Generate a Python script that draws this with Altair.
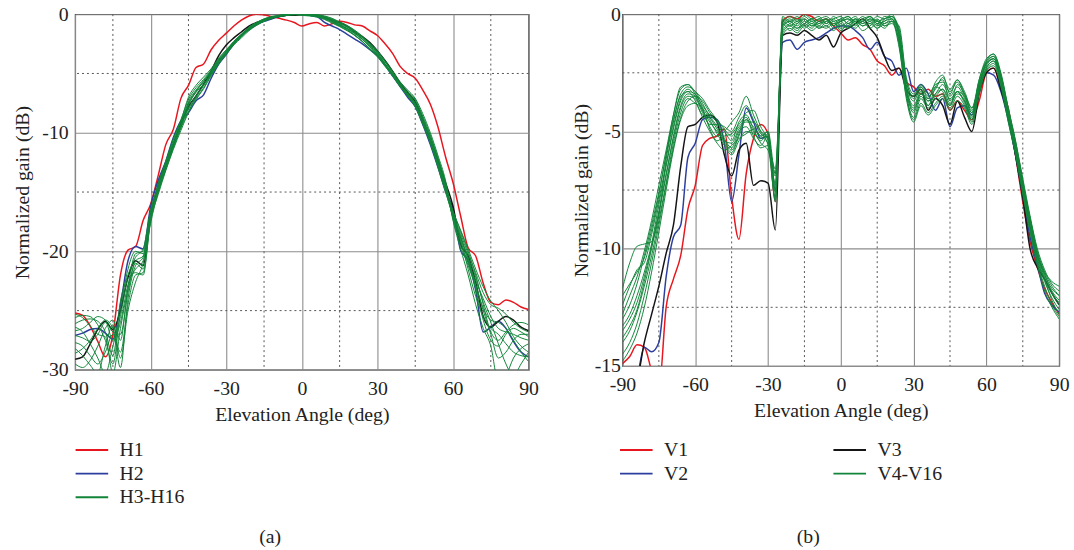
import altair as alt
import pandas as pd

FONT = "Liberation Serif"
RED, BLUE, BLACK, GREEN = "#e8161e", "#2d3f9e", "#151515", "#12853a"

angles = list(range(-90, 91, 3))
x_major = [-90, -60, -30, 0, 30, 60, 90]
x_minor = [-75, -45, -15, 15, 45, 75]

# ---------------- panel (a): horizontal ----------------
a_y_major = [-30, -20, -10, 0]
a_y_minor = [-25, -15, -5]

H1 = [-25.2, -25.4, -26.3, -27.6, -28.9, -27.0, -22.0, -19.9, -19.6, -17.4,
      -16.0, -13.6, -11.0, -9.7, -7.1, -6.0, -4.5, -4.2, -3.0, -2.2,
      -1.6, -1.0, -0.5, -0.15, 0.0, -0.05, -0.2, -0.35, -0.5, -0.7,
      -1.0, -0.8, -0.7, -1.0, -0.8, -0.6, -0.7, -0.9, -1.0, -1.4,
      -1.8, -2.5, -3.3, -4.4, -5.0, -5.4, -6.4, -7.6, -9.5, -12.0,
      -14.2, -17.0, -19.7, -20.4, -22.7, -24.3, -24.5, -24.1, -24.3, -24.7, -24.9]
H2 = [-27.1, -26.9, -26.6, -26.5, -26.9, -27.4, -24.5, -20.8, -19.6, -19.8,
      -16.2, -14.0, -12.4, -10.4, -9.0, -8.3, -7.3, -6.8, -5.4, -4.2,
      -3.4, -2.5, -1.8, -1.3, -0.9, -0.6, -0.4, -0.2, -0.1, 0.0,
      0.0, -0.1, -0.2, -0.7, -1.0, -1.3, -1.7, -2.1, -2.5, -3.0,
      -3.5, -4.3, -5.2, -6.1, -7.0, -7.8, -9.3, -11.0, -12.9, -14.9,
      -16.4, -19.9, -20.8, -23.3, -26.8, -26.4, -25.9, -26.5, -27.6, -28.5, -28.9]
H_black = [-29.1, -28.9, -27.8, -26.6, -25.9, -26.6, -25.0, -22.2, -20.8, -21.2,
           -17.0, -14.4, -12.7, -11.0, -9.2, -7.8, -6.9, -5.9, -4.8, -3.5,
           -2.6, -2.0, -1.5, -1.0, -0.7, -0.5, -0.3, -0.2, -0.1, -0.1,
           -0.05, -0.05, -0.1, -0.3, -0.5, -0.7, -1.0, -1.5, -1.9, -2.4,
           -3.1, -3.9, -4.8, -5.8, -6.6, -7.4, -8.9, -10.6, -12.3, -14.2,
           -16.2, -19.4, -20.4, -22.6, -25.5, -26.4, -25.9, -25.5, -25.8, -26.4, -26.7]

HG1 = ([-25.6, -25.4, -25.5, -26.2, -27.5, -29.5, -25.0, -21.5, -20.0, -20.2, -16.8]
       + [-14.3, -12.4, -10.5, -8.9, -7.2, -6.2, -5.5, -4.7, -3.8, -3.1, -2.3, -1.7, -1.1, -0.7, -0.4, -0.2, -0.1, 0, 0, 0,
          -0.05, -0.1, -0.3, -0.5, -0.8, -1.1, -1.5, -2.0, -2.6, -3.2, -4.0, -4.9, -5.8, -6.5, -7.2, -8.6, -10.2, -12.1, -14.2]
       + [-16.8, -18.5, -20.2, -21.8, -23.5, -24.5, -24.8, -25.3, -26.0, -26.5, -26.8])
HG2 = ([-26.1, -25.8, -25.7, -25.9, -26.8, -28.8, -24.2, -22.0, -20.5, -19.8, -16.5]
       + [-14.6, -12.8, -11.0, -9.4, -7.9, -6.9, -6.0, -5.0, -4.0, -3.3, -2.5, -1.9, -1.3, -0.9, -0.6, -0.35, -0.2, -0.1, 0, -0.05,
          -0.1, -0.2, -0.35, -0.6, -0.9, -1.2, -1.6, -2.1, -2.7, -3.3, -4.2, -5.1, -6.0, -6.8, -7.6, -9.0, -10.6, -12.5, -14.6]
       + [-17.0, -18.8, -20.8, -22.5, -24.0, -25.5, -26.5, -26.8, -27.0, -27.3, -27.5])
HG3 = ([-26.7, -26.5, -26.0, -25.5, -25.8, -27.5, -26.0, -22.8, -21.5, -20.8, -17.2]
       + [-15.0, -13.0, -11.2, -9.6, -8.2, -7.0, -6.0, -5.1, -4.1, -3.3, -2.5, -1.9, -1.3, -0.9, -0.55, -0.3, -0.15, -0.05, 0, 0,
          -0.05, -0.15, -0.35, -0.65, -0.95, -1.3, -1.8, -2.3, -3.0, -3.6, -4.4, -5.2, -6.1, -6.9, -7.8, -9.1, -10.7, -12.6, -14.7]
       + [-16.6, -18.2, -19.8, -21.5, -23.0, -24.2, -25.0, -26.0, -27.2, -28.0, -28.5])
HG4 = ([-27.1, -27.3, -27.6, -27.0, -26.0, -26.8, -27.0, -23.5, -21.0, -21.5, -17.0]
       + [-14.8, -12.9, -11.0, -9.3, -7.4, -6.4, -5.6, -4.8, -3.9, -3.2, -2.4, -1.8, -1.2, -0.8, -0.5, -0.3, -0.15, -0.05, 0, 0,
          0, -0.05, -0.2, -0.4, -0.7, -1.0, -1.4, -1.9, -2.5, -3.1, -4.0, -4.9, -5.9, -6.6, -7.3, -8.7, -10.3, -12.2, -14.3]
       + [-17.3, -19.5, -21.2, -23.0, -25.0, -27.0, -29.0, -28.5, -27.5, -27.0, -27.0])
HG5 = ([-27.7, -28.0, -28.8, -29.5, -28.5, -27.0, -28.5, -24.5, -22.0, -21.8, -17.4]
       + [-15.2, -13.2, -11.4, -9.8, -8.3, -7.2, -6.3, -5.2, -4.2, -3.4, -2.6, -2.0, -1.4, -0.95, -0.6, -0.35, -0.2, -0.1, -0.05, 0,
          0, -0.05, -0.2, -0.45, -0.75, -1.05, -1.45, -1.95, -2.55, -3.25, -4.15, -5.05, -6.0, -6.8, -7.7, -9.2, -10.8, -12.8, -14.9]
       + [-17.1, -19.0, -21.5, -23.8, -25.5, -26.5, -27.0, -27.8, -28.5, -28.8, -28.9])
HG6 = ([-28.2, -28.8, -29.6, -30.3, -28.0, -26.2, -29.0, -25.0, -22.6, -21.0, -17.6]
       + [-15.0, -13.1, -11.3, -9.5, -7.7, -6.5, -5.7, -4.8, -3.8, -3.1, -2.3, -1.7, -1.15, -0.75, -0.45, -0.25, -0.1, 0, 0, -0.05,
          -0.1, -0.2, -0.4, -0.7, -1.0, -1.35, -1.75, -2.3, -2.9, -3.5, -4.3, -5.1, -6.0, -6.7, -7.5, -8.9, -10.5, -12.4, -14.5]
       + [-16.9, -18.7, -20.5, -22.2, -24.3, -26.0, -27.8, -29.5, -30.5, -29.5, -28.5])
HG7 = ([-28.6, -28.2, -27.5, -26.5, -25.8, -26.5, -29.8, -24.0, -21.2, -20.5, -16.9]
       + [-14.4, -12.5, -10.6, -9.0, -7.0, -6.0, -5.3, -4.6, -3.7, -3.0, -2.3, -1.7, -1.1, -0.7, -0.4, -0.2, -0.1, 0, 0, 0,
          0, -0.05, -0.15, -0.35, -0.65, -0.95, -1.35, -1.85, -2.45, -3.1, -3.9, -4.8, -5.7, -6.4, -7.1, -8.4, -10.0, -11.9, -14.0]
       + [-17.4, -19.8, -22.0, -24.5, -26.5, -28.0, -31.0, -30.5, -29.0, -28.2, -27.8])
HG8 = ([-29.5, -29.8, -29.2, -28.0, -26.5, -25.8, -27.5, -23.0, -20.2, -20.0, -16.6]
       + [-14.5, -12.7, -10.9, -9.4, -8.0, -7.1, -6.2, -5.1, -4.0, -3.2, -2.4, -1.8, -1.25, -0.85, -0.5, -0.3, -0.15, -0.05, -0.05, -0.1,
          -0.15, -0.25, -0.45, -0.75, -1.05, -1.4, -1.8, -2.3, -2.9, -3.5, -4.3, -5.2, -6.1, -6.8, -7.6, -9.0, -10.6, -12.6, -14.7]
       + [-16.7, -18.3, -20.0, -22.0, -24.5, -26.8, -27.5, -26.8, -26.2, -26.0, -26.2])
HG9 = ([-26.4, -26.8, -27.8, -29.0, -30.3, -28.0, -25.5, -22.3, -21.8, -22.0, -17.3]
       + [-14.9, -13.0, -11.1, -9.5, -7.6, -6.6, -5.9, -5.0, -4.0, -3.2, -2.4, -1.8, -1.2, -0.8, -0.5, -0.3, -0.15, -0.05, 0, 0,
          -0.05, -0.1, -0.3, -0.55, -0.85, -1.2, -1.6, -2.1, -2.7, -3.4, -4.2, -5.0, -5.9, -6.7, -7.5, -8.9, -10.5, -12.4, -14.5]
       + [-17.2, -19.2, -21.0, -22.8, -24.8, -25.8, -26.0, -26.5, -27.5, -28.5, -29.3])
HG10 = ([-25.3, -25.6, -26.3, -27.0, -27.2, -30.3, -26.5, -23.2, -20.8, -20.4, -17.1]
        + [-14.6, -12.6, -10.8, -9.1, -7.5, -6.5, -5.7, -4.9, -3.9, -3.2, -2.4, -1.8, -1.2, -0.8, -0.5, -0.3, -0.15, -0.05, 0, 0,
           -0.05, -0.15, -0.3, -0.6, -0.9, -1.25, -1.65, -2.15, -2.75, -3.4, -4.25, -5.15, -6.1, -6.9, -7.8, -9.3, -10.9, -12.9, -15.0]
        + [-17.0, -18.9, -20.6, -23.2, -25.8, -27.5, -28.0, -27.0, -26.5, -26.8, -27.2])
H_greens = [HG1, HG2, HG3, HG4, HG5, HG6, HG7, HG8, HG9, HG10]

# ---------------- panel (b): vertical ----------------
b_y_major = [-15, -10, -5, 0]
b_y_minor = [-12.5, -7.5, -2.5]

V1 = [-14.9, -14.6, -14.1, -14.2, -15.2, -16.0, -12.5, -11.3, -10.3, -8.3,
      -7.3, -5.6, -5.3, -5.2, -4.9, -7.8, -9.6, -6.8, -5.3, -4.7,
      -5.1, -8.0, -0.3, -0.1, -0.2, 0.0, -0.1, -0.3, -0.2, -0.5,
      -0.8, -1.1, -1.0, -1.3, -1.5, -2.0, -2.2, -2.6, -2.3, -2.9,
      -3.1, -3.4, -3.2, -3.5, -3.4, -4.1, -3.7, -4.1, -4.5, -3.7,
      -2.5, -2.3, -3.2, -4.0, -6.0, -8.0, -9.7, -10.8, -11.7, -12.3, -12.8]
V2 = [-16.0, -16.0, -15.5, -14.2, -14.4, -14.0, -11.2, -9.5, -9.0, -6.1,
      -5.5, -4.5, -4.4, -4.5, -5.5, -8.0, -6.0, -4.0, -4.6, -5.3,
      -5.2, -7.5, -1.2, -1.1, -1.5, -1.2, -1.1, -1.0, -0.8, -0.6,
      -0.5, -0.5, -0.7, -1.0, -1.5, -1.2, -1.8, -2.0, -2.6, -2.3,
      -3.3, -3.0, -3.4, -4.1, -3.6, -4.8, -4.0, -3.9, -4.3, -3.2,
      -2.5, -2.6, -3.3, -4.5, -6.0, -7.8, -9.5, -10.7, -11.9, -12.4, -12.7]
V3 = [-16.0, -16.0, -15.6, -14.0, -12.8, -11.6, -10.2, -9.0, -6.5, -4.8,
      -4.7, -4.4, -4.3, -4.6, -6.0, -6.9, -5.8, -5.5, -7.3, -7.1,
      -7.2, -9.2, -0.9, -0.8, -0.9, -0.7, -0.9, -1.1, -0.9, -1.4,
      -0.8, -0.6, -0.4, -0.2, -0.6, -1.0, -1.8, -2.4, -2.3, -3.2,
      -3.5, -3.2, -4.1, -3.6, -3.9, -4.7, -3.7, -4.4, -5.0, -3.4,
      -2.5, -2.3, -3.2, -4.4, -6.0, -7.8, -10.0, -10.8, -11.3, -11.9, -12.4]

VG1 = [-11.7, -10.6, -9.9, -9.8, -9.7, -8.6, -6.2, -4.6, -3.4, -3.1, -3.3, -3.8, -4.4, -4.9, -5.5, -5.9, -5.2, -4.5, -4.8, -5.2, -5.0, -6.8,
       -0.4, -0.1, -0.3, -0.0, -0.2, -0.1, -0.4, -0.2, -0.1, -0.4, -0.2, -0.3, -0.1, -0.3, -0.2, -0.1,
       -0.6, -2.8, -3.6, -3.1, -3.6, -2.9, -2.6, -3.4, -2.8, -3.4, -4.1, -2.9, -2.0, -1.7, -2.5, -4.0, -5.4, -7.0, -8.6, -10.0, -10.9, -11.5, -11.8]
VG2 = [-12.4, -11.6, -10.9, -10.6, -9.4, -7.9, -6.4, -4.8, -3.6, -3.2, -3.5, -4.1, -4.8, -5.2, -5.0, -4.6, -4.2, -3.5, -4.3, -5.0, -5.6, -7.8,
       -0.2, -0.4, -0.6, -0.3, -0.5, -0.3, -0.2, -0.4, -0.3, -0.2, -0.5, -0.2, -0.4, -0.2, -0.5, -0.3,
       -1.2, -3.3, -4.2, -3.5, -3.9, -3.4, -3.2, -3.8, -3.4, -3.7, -4.5, -3.2, -2.3, -2.0, -2.9, -4.4, -5.8, -7.5, -9.1, -10.5, -11.4, -12.1, -12.6]
VG3 = [-13.0, -12.4, -11.5, -10.3, -9.0, -7.6, -6.0, -4.3, -3.1, -3.0, -3.4, -3.9, -4.3, -4.6, -5.3, -5.7, -5.0, -4.8, -5.3, -5.6, -5.2, -7.3,
       -0.7, -0.4, -0.2, -0.5, -0.3, -0.6, -0.3, -0.2, -0.5, -0.3, -0.1, -0.4, -0.2, -0.5, -0.3, -0.2,
       -0.8, -3.1, -3.9, -3.3, -3.7, -3.4, -3.0, -3.5, -3.1, -3.6, -4.4, -3.1, -2.1, -1.8, -2.7, -4.3, -5.7, -7.4, -9.0, -10.4, -11.3, -12.2, -12.8]
VG4 = [-13.5, -13.0, -12.3, -11.2, -9.9, -8.4, -6.8, -5.3, -4.0, -3.5, -3.6, -4.2, -4.7, -4.7, -5.0, -5.4, -4.6, -4.3, -4.9, -5.5, -5.8, -6.9,
       -0.9, -0.6, -0.8, -0.5, -0.7, -0.5, -0.6, -0.4, -0.6, -0.5, -0.3, -0.5, -0.4, -0.6, -0.4, -0.3,
       -1.4, -3.5, -4.5, -3.8, -4.2, -3.8, -3.5, -4.0, -3.5, -3.9, -4.6, -3.3, -2.4, -2.1, -3.0, -4.5, -5.9, -7.6, -9.2, -10.6, -11.6, -12.4, -12.9]
VG5 = [-14.0, -13.5, -12.7, -11.6, -10.3, -8.8, -7.2, -5.5, -4.2, -3.6, -3.8, -4.0, -4.5, -5.1, -5.6, -6.0, -5.4, -5.0, -5.1, -5.3, -5.0, -8.0,
       -0.5, -0.2, -0.4, -0.1, -0.3, -0.2, -0.1, -0.3, -0.2, -0.1, -0.3, -0.1, -0.3, -0.1, -0.2, -0.0,
       -0.9, -3.0, -3.7, -3.2, -3.9, -3.1, -2.8, -3.7, -3.3, -3.5, -4.2, -2.8, -2.0, -1.8, -2.6, -4.1, -5.5, -7.2, -8.8, -10.2, -11.1, -11.7, -12.0]
VG6 = [-14.5, -14.0, -13.2, -12.0, -10.6, -9.0, -7.3, -5.7, -4.4, -3.7, -3.5, -3.7, -4.2, -4.6, -4.8, -5.0, -4.4, -3.9, -4.5, -5.1, -5.3, -7.5,
       -0.3, -0.5, -0.3, -0.6, -0.4, -0.6, -0.5, -0.7, -0.4, -0.6, -0.4, -0.7, -0.5, -0.3, -0.5, -0.4,
       -1.1, -3.2, -4.0, -3.4, -3.6, -3.1, -3.3, -3.9, -3.0, -3.4, -4.0, -3.0, -2.2, -1.9, -2.8, -4.2, -5.6, -7.3, -8.9, -10.3, -11.2, -11.9, -12.4]
VG7 = [-12.0, -11.5, -11.0, -10.4, -9.2, -7.7, -6.0, -4.5, -3.5, -3.3, -3.7, -4.4, -5.0, -5.5, -5.8, -5.6, -5.3, -5.1, -4.9, -5.2, -5.5, -7.2,
       -0.1, -0.3, -0.1, -0.4, -0.2, -0.5, -0.2, -0.5, -0.3, -0.6, -0.2, -0.5, -0.3, -0.6, -0.2, -0.1,
       -0.7, -2.9, -3.5, -3.0, -3.4, -3.0, -2.9, -3.3, -2.9, -3.5, -4.2, -3.0, -2.1, -1.9, -2.7, -4.1, -5.5, -7.2, -8.7, -10.1, -11.0, -11.6, -12.0]
VG8 = [-13.3, -12.8, -12.0, -11.0, -9.8, -8.1, -6.5, -4.9, -3.7, -3.3, -3.4, -4.0, -4.9, -5.4, -5.2, -5.1, -4.7, -4.4, -5.2, -5.7, -5.6, -6.6,
       -0.6, -0.3, -0.5, -0.2, -0.4, -0.2, -0.4, -0.1, -0.3, -0.2, -0.4, -0.2, -0.1, -0.4, -0.1, -0.2,
       -1.0, -3.4, -4.4, -3.6, -4.0, -3.6, -3.4, -3.9, -3.3, -3.8, -4.5, -3.2, -2.3, -2.0, -2.9, -4.4, -5.8, -7.5, -9.1, -10.5, -11.3, -11.9, -12.3]
VG9 = [-14.8, -14.3, -13.6, -12.5, -11.0, -9.3, -7.5, -5.8, -4.5, -3.9, -3.8, -4.3, -4.4, -4.8, -5.4, -5.8, -5.1, -4.2, -4.1, -4.8, -5.4, -6.8,
       -0.8, -0.5, -0.7, -0.4, -0.6, -0.3, -0.5, -0.3, -0.7, -0.4, -0.6, -0.3, -0.6, -0.4, -0.6, -0.3,
       -0.5, -2.7, -3.4, -3.1, -3.5, -3.2, -2.7, -3.2, -2.8, -3.3, -4.0, -2.8, -1.9, -1.7, -2.6, -4.0, -5.4, -7.1, -8.7, -10.2, -11.0, -11.4, -11.6]
VG10 = [-12.8, -12.0, -11.2, -10.1, -8.8, -7.3, -5.8, -4.3, -3.2, -3.0, -3.3, -3.6, -4.1, -4.5, -4.9, -5.2, -4.8, -4.5, -5.0, -5.4, -5.1, -7.6,
        -0.4, -0.7, -0.4, -0.2, -0.5, -0.4, -0.2, -0.6, -0.3, -0.1, -0.4, -0.3, -0.1, -0.4, -0.3, -0.1,
        -0.9, -3.2, -4.1, -3.4, -3.7, -3.5, -3.2, -3.6, -3.3, -3.7, -4.3, -3.1, -2.1, -1.9, -2.8, -4.3, -5.7, -7.3, -8.9, -10.3, -11.1, -11.8, -12.2]
VG11 = [-13.8, -13.3, -12.6, -11.4, -10.0, -8.5, -6.9, -5.2, -3.9, -3.4, -3.5, -4.1, -4.6, -5.0, -5.4, -5.5, -4.9, -4.6, -4.6, -5.0, -5.3, -7.9,
        -0.5, -0.3, -0.6, -0.4, -0.2, -0.4, -0.3, -0.5, -0.2, -0.4, -0.2, -0.4, -0.2, -0.3, -0.4, -0.2,
        -1.3, -3.6, -4.6, -3.9, -4.3, -3.9, -3.6, -4.1, -3.7, -4.0, -4.7, -3.4, -2.4, -2.2, -3.1, -4.6, -6.0, -7.7, -9.3, -10.7, -11.8, -12.5, -13.0]
V_greens = [VG1, VG2, VG3, VG4, VG5, VG6, VG7, VG8, VG9, VG10, VG11]


def long_df(curves):
    rows = []
    for name, series, vals in curves:
        if len(vals) != len(angles):
            raise ValueError(f"{name}: {len(vals)} values")
        for a, v in zip(angles, vals):
            rows.append({"angle": a, "gain": v, "curve": name, "series": series})
    return pd.DataFrame(rows)


def panel(main_curves, green_curves, ydom, ymajor, yminor, width, height,
          domain, crange, legend_vals, legend_cols, col_pad, legend_x, legend_y, caption, cap_dx, cap_off,
          ylab_pad, ytitle_pad):
    df_main = long_df(main_curves)
    df_green = long_df(green_curves)
    xenc = alt.X("angle:Q", scale=alt.Scale(domain=[-90, 90], nice=False, zero=False),
                 axis=alt.Axis(values=x_major, title="Elevation Angle (deg)", grid=True,
                               gridColor="#8c8c8c", gridWidth=1.1, ticks=False, domain=False,
                               labelFlush=False, labelOverlap=False,
                               labelPadding=9, titlePadding=6, labelExpr="'' + datum.value"))
    yenc = alt.Y("gain:Q", scale=alt.Scale(domain=ydom, nice=False, zero=False),
                 axis=alt.Axis(values=ymajor, title="Normalized gain (dB)", grid=True,
                               gridColor="#8c8c8c", gridWidth=1.1, ticks=False, domain=False,
                               labelFlush=False, labelOverlap=False,
                               labelPadding=ylab_pad, titlePadding=ytitle_pad,
                               labelExpr="'' + datum.value"))
    cenc = alt.Color("series:N", scale=alt.Scale(domain=domain, range=crange),
                     legend=alt.Legend(values=legend_vals, orient="none", legendX=legend_x, legendY=legend_y,
                                       title=None, symbolType="M-2,0H2", symbolSize=272,
                                       symbolStrokeWidth=2, labelFont=FONT, labelFontSize=20,
                                       labelColor="#222", columns=legend_cols, columnPadding=col_pad,
                                       rowPadding=4, labelOffset=18, direction="vertical"))
    vr = alt.Chart(pd.DataFrame({"angle": x_minor})).mark_rule(
        color="#555", strokeDash=[2, 3], strokeWidth=1).encode(x=xenc)
    hr = alt.Chart(pd.DataFrame({"gain": yminor})).mark_rule(
        color="#555", strokeDash=[2, 3], strokeWidth=1).encode(y=yenc)
    main = alt.Chart(df_main).mark_line(clip=True, strokeWidth=1.5, interpolate="monotone").encode(
        x=xenc, y=yenc, color=cenc, detail="curve:N")
    green = alt.Chart(df_green).mark_line(clip=True, strokeWidth=1.0, interpolate="monotone").encode(
        x=xenc, y=yenc, color=cenc, detail="curve:N")
    return alt.layer(vr, hr, main, green).properties(
        width=width, height=height,
        title=alt.TitleParams(text=caption, orient="bottom", anchor="middle", dx=cap_dx, offset=cap_off,
                              font=FONT, fontSize=20, fontWeight="normal", color="#222"))


a_main = [("H1", "H1", H1), ("H2", "H2", H2), ("Hb", "Hb", H_black)]
a_green = [(f"H{k + 3}", "H3-H16", v) for k, v in enumerate(H_greens)]
b_main = [("V1", "V1", V1), ("V2", "V2", V2), ("V3", "V3", V3)]
b_green = [(f"V{k + 4}", "V4-V16", v) for k, v in enumerate(V_greens)]

pa = panel(a_main, a_green, [-30, 0], a_y_major, a_y_minor, 459, 360,
           ["H1", "H2", "H3-H16", "Hb"], [RED, BLUE, GREEN, BLACK], ["H1", "H2", "H3-H16"], 1, 10, 7, 431,
           "(a)", -32, 20, 7, 9)
pb = panel(b_main, b_green, [-15, 0], b_y_major, b_y_minor, 442, 356,
           ["V1", "V2", "V3", "V4-V16"], [RED, BLUE, BLACK, GREEN], ["V1", "V2", "V3", "V4-V16"], 2, 142, 4, 431,
           "(b)", -33, 44, 2, 3)

chart = alt.hconcat(pa, pb, spacing=31).resolve_scale(color="independent", x="independent", y="independent").properties(
    padding={"left": 12, "top": 0, "right": 4, "bottom": 4}
).configure_axis(
    labelFont=FONT, titleFont=FONT, labelFontSize=20, titleFontSize=20, titleFontWeight="normal",
    labelColor="#222", titleColor="#222"
).configure_view(stroke="#222", strokeWidth=1.2)

chart.save("out.html", embed_options={"renderer": "svg", "actions": False})
